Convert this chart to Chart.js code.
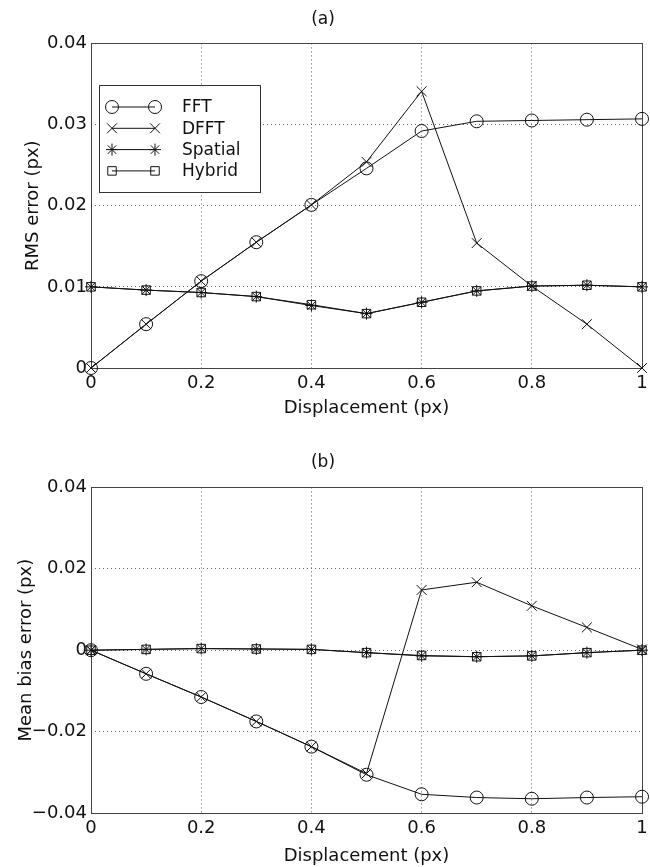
<!DOCTYPE html>
<html>
<head>
<meta charset="utf-8">
<script src="https://cdn.jsdelivr.net/npm/chart.js@4/dist/chart.umd.min.js"></script>
<style>
  html, body { margin: 0; padding: 0; background: #fff; }
  #wrap { position: relative; width: 650px; height: 867px; }
  .box { position: absolute; left: 0; width: 650px; }
  #boxA { top: 0; height: 430px; }
  #boxB { top: 430px; height: 437px; }
</style>
</head>
<body>
<div id="wrap">
  <div class="box" id="boxA"><canvas id="chartA"></canvas></div>
  <div class="box" id="boxB"><canvas id="chartB"></canvas></div>
</div>
<script>
// Datos
const dispX = [0, 0.1, 0.2, 0.3, 0.4, 0.5, 0.6, 0.7, 0.8, 0.9, 1.0];
const seriesNames = ['FFT', 'DFFT', 'Spatial', 'Hybrid'];

// (a) RMS error
const rmsFFT = [0, 0.0054, 0.0107, 0.0155, 0.0201, 0.0246, 0.0292, 0.0304, 0.0305, 0.0306, 0.0307];
const rmsDFFT = [0, 0.0054, 0.0107, 0.0155, 0.0201, 0.0254, 0.0341, 0.0154, 0.0101, 0.0054, 0];
const rmsSpatial = [0.0100, 0.0096, 0.0093, 0.0088, 0.0077, 0.0067, 0.0081, 0.0095, 0.0101, 0.0102, 0.0100];
const rmsHybrid = [0.0100, 0.0096, 0.0093, 0.0088, 0.0078, 0.0067, 0.0081, 0.0095, 0.0101, 0.0102, 0.0100];

// (b) Mean bias error
const biasFFT = [0, -0.0058, -0.0115, -0.0175, -0.0237, -0.0306, -0.0354, -0.0362, -0.0365, -0.0362, -0.0360];
const biasDFFT = [0, -0.0058, -0.0115, -0.0175, -0.0237, -0.0303, 0.0148, 0.0167, 0.0109, 0.0056, 0.0002];
const biasSpatial = [0, 0.0002, 0.0004, 0.0003, 0.0002, -0.0006, -0.0014, -0.0016, -0.0014, -0.0006, 0];
const biasHybrid = [0, 0.0002, 0.0004, 0.0003, 0.0002, -0.0006, -0.0013, -0.0016, -0.0014, -0.0006, 0];

// Ticks
const xTicks = [0, 0.2, 0.4, 0.6, 0.8, 1];
const rmsTicks = [0, 0.01, 0.02, 0.03, 0.04];
const biasTicks = [-0.04, -0.02, 0, 0.02, 0.04];

const FONT = 'DejaVu Sans';
const INK = '#111';

// Estilo de marcador por serie
const markerStyles = {
    FFT: { pointStyle: 'circle', pointRadius: 6.5 },
    DFFT: { pointStyle: 'crossRot', pointRadius: 7 },
    Spatial: { pointStyle: 'star', pointRadius: 6 },
    Hybrid: { pointStyle: 'rect', pointRadius: 6 }
};

const toPoints = (ys) => ys.map((y, i) => ({ x: dispX[i], y }));

const makeDataset = (name, ys) => ({
    label: name,
    data: toPoints(ys),
    borderColor: INK,
    borderWidth: 1,
    pointBorderColor: INK,
    pointBackgroundColor: 'rgba(0,0,0,0)',
    pointBorderWidth: 1,
    pointHoverRadius: markerStyles[name].pointRadius,
    pointStyle: markerStyles[name].pointStyle,
    pointRadius: markerStyles[name].pointRadius,
    tension: 0,
    fill: false,
    clip: false
});

const fmtTick = (v) => {
    const r = Math.round(v * 1000) / 1000;
    if (r === 0) return '0';
    return (r < 0 ? '\u2212' : '') + Math.abs(r).toString();
};

// Marco completo de los ejes
const framePlugin = {
    id: 'frame',
    beforeDatasetsDraw(chart) {
        const a = chart.chartArea;
        const ctx = chart.ctx;
        ctx.save();
        ctx.strokeStyle = '#444';
        ctx.lineWidth = 1;
        ctx.strokeRect(Math.round(a.left) + 0.5, Math.round(a.top) + 0.5,
            Math.round(a.right - a.left), Math.round(a.bottom - a.top));
        ctx.restore();
    }
};

// Leyenda estilo MATLAB: linea con marcadores en ambos extremos
const matlabLegend = {
    id: 'matlabLegend',
    afterDraw(chart, args, opts) {
        if (!opts || !opts.show) return;
        const ctx = chart.ctx;
        const left = opts.x, top = opts.y, w = opts.w, h = opts.h;
        ctx.save();
        ctx.fillStyle = '#fff';
        ctx.fillRect(left, top, w, h);
        ctx.strokeStyle = '#333';
        ctx.lineWidth = 1;
        ctx.strokeRect(left + 0.5, top + 0.5, w, h);
        ctx.font = '17px "' + FONT + '"';
        ctx.textBaseline = 'middle';
        chart.data.datasets.forEach((ds, i) => {
            const y = top + opts.firstRow + i * opts.rowGap;
            const x1 = left + 13, x2 = left + 56;
            ctx.strokeStyle = INK;
            ctx.lineWidth = 1;
            ctx.beginPath();
            ctx.moveTo(x1, y);
            ctx.lineTo(x2, y);
            ctx.stroke();
            [x1, x2].forEach((px) => {
                ctx.fillStyle = 'rgba(0,0,0,0)';
                ctx.strokeStyle = INK;
                Chart.helpers.drawPoint(ctx, {
                    pointStyle: ds.pointStyle,
                    radius: ds.pointRadius,
                    borderWidth: 1,
                    rotation: 0
                }, px, y);
            });
            ctx.fillStyle = INK;
            ctx.fillText(ds.label, left + 83, y + 1);
        });
        ctx.restore();
    }
};

const makeChart = (canvasId, cfg) => {
    const ctx = document.getElementById(canvasId).getContext('2d');
    return new Chart(ctx, {
        type: 'line',
        data: {
            datasets: [
                makeDataset('FFT', cfg.series[0]),
                makeDataset('DFFT', cfg.series[1]),
                makeDataset('Spatial', cfg.series[2]),
                makeDataset('Hybrid', cfg.series[3])
            ]
        },
        options: {
            responsive: true,
            maintainAspectRatio: false,
            animation: false,
            events: [],
            layout: { padding: { left: 0, right: 4, top: 0, bottom: 0 } },
            plugins: {
                legend: { display: false },
                tooltip: { enabled: false },
                title: {
                    display: true,
                    text: cfg.title,
                    color: INK,
                    font: { family: FONT, size: 17, weight: 'normal', lineHeight: 1.2 },
                    padding: cfg.titlePad
                },
                matlabLegend: cfg.legend
            },
            scales: {
                x: {
                    type: 'linear',
                    min: 0,
                    max: 1,
                    afterBuildTicks: (scale) => {
                        scale.ticks = xTicks.map((v) => ({ value: v }));
                    },
                    afterFit: (scale) => {
                        scale.height = cfg.xAxisHeight;
                        scale.paddingLeft = 0;
                        scale.paddingRight = 0;
                    },
                    grid: {
                        color: '#666',
                        lineWidth: 1,
                        drawTicks: false
                    },
                    border: { display: false, dash: [1, 3] },
                    ticks: {
                        color: INK,
                        padding: 5,
                        maxRotation: 0,
                        font: { family: FONT, size: 18 },
                        callback: (v) => fmtTick(v)
                    },
                    title: {
                        display: true,
                        text: 'Displacement (px)',
                        color: INK,
                        font: { family: FONT, size: 18, lineHeight: 1.2 },
                        padding: { top: 0, bottom: cfg.xTitlePad }
                    }
                },
                y: {
                    type: 'linear',
                    min: cfg.yTicks[0],
                    max: cfg.yTicks[cfg.yTicks.length - 1],
                    afterBuildTicks: (scale) => {
                        scale.ticks = cfg.yTicks.map((v) => ({ value: v }));
                    },
                    afterFit: (scale) => {
                        scale.width = 91;
                        scale.paddingTop = 0;
                        scale.paddingBottom = 0;
                    },
                    grid: {
                        color: '#666',
                        lineWidth: 1,
                        drawTicks: false
                    },
                    border: { display: false, dash: [1, 3] },
                    ticks: {
                        color: INK,
                        padding: 4,
                        font: { family: FONT, size: 18 },
                        callback: (v) => fmtTick(v)
                    },
                    title: {
                        display: true,
                        text: cfg.yTitle,
                        color: INK,
                        font: { family: FONT, size: 18, lineHeight: 1.2 },
                        padding: { top: cfg.yTitlePad, bottom: 0 }
                    }
                }
            }
        },
        plugins: [framePlugin, matlabLegend]
    });
};

makeChart('chartA', {
    title: '(a)',
    titlePad: { top: 9, bottom: 14 },
    series: [rmsFFT, rmsDFFT, rmsSpatial, rmsHybrid],
    yTicks: rmsTicks,
    yTitle: 'RMS error (px)',
    yTitlePad: 23,
    xAxisHeight: 62,
    xTitlePad: 11,
    legend: { show: true, x: 99, y: 85, w: 161, h: 107, firstRow: 22, rowGap: 21.3 }
});

makeChart('chartB', {
    title: '(b)',
    titlePad: { top: 22, bottom: 15 },
    series: [biasFFT, biasDFFT, biasSpatial, biasHybrid],
    yTicks: biasTicks,
    yTitle: 'Mean bias error (px)',
    yTitlePad: 16,
    xAxisHeight: 54,
    xTitlePad: 0,
    legend: { show: false }
});
</script>
</body>
</html>
